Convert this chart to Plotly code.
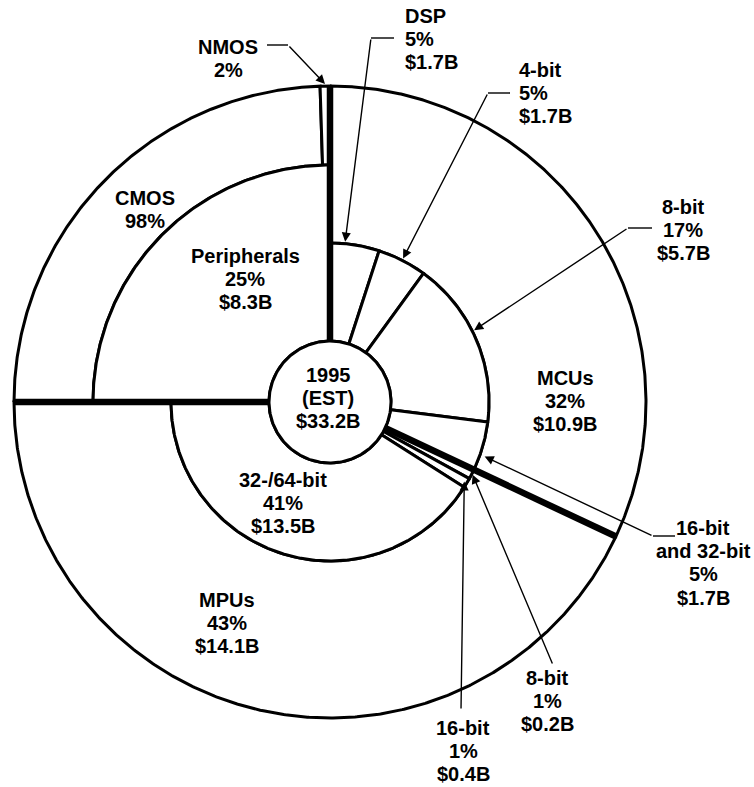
import numpy as np
import plotly.graph_objects as go

# ---------------- data ----------------
hub_lines = ["1995", "(EST)"]
total_value = 33.2

segment_names = ["MCUs", "MPUs", "Peripherals"]
segment_pct = [32, 43, 25]
segment_value = [10.9, 14.1, 8.3]

mcu_names = ["DSP", "4-bit", "8-bit", "16-bit\nand 32-bit"]
mcu_pct = [5, 5, 17, 5]
mcu_value = [1.7, 1.7, 5.7, 1.7]

mpu_names = ["8-bit", "16-bit", "32-/64-bit"]
mpu_pct = [1, 1, 41]
mpu_value = [0.2, 0.4, 13.5]

tech_names = ["CMOS", "NMOS"]          # share of peripherals
tech_pct = [98, 2]

# ---------------- geometry / style ----------------
W, H = 754, 787
CX, CY = 330, 402
R_HUB, R_INNER, R_PERIPH, R_OUTER = 61, 159, 237, 316
FONT = "Liberation Sans, Arial, Helvetica, sans-serif"
FS = 20
PITCH = 23.2
THIN = 3
THICK = 6.5


def pt(r, a):
    t = np.radians(a)
    return CX + r * np.sin(t), CY - r * np.cos(t)


def wedge(a0, a1, r0, r1):
    n = max(6, int(abs(a1 - a0) * 3) + 2)
    t = np.linspace(a0, a1, n)
    xo, yo = pt(r1, t)
    if r0 > 0:
        xi, yi = pt(r0, t[::-1])
    else:
        xi, yi = np.array([CX]), np.array([CY])
    x = np.concatenate([xo, xi, xo[:1]])
    y = np.concatenate([yo, yi, yo[:1]])
    return x, y


fig = go.Figure()


def add_wedge(a0, a1, r0, r1, width=THIN):
    x, y = wedge(a0, a1, r0, r1)
    fig.add_trace(go.Scatter(x=x, y=y, mode="lines", fill="toself",
                             fillcolor="white",
                             line=dict(color="black", width=width),
                             hoverinfo="skip"))


# major segment angles (clockwise from 12 o'clock)
seg_edges = np.concatenate([[0], np.cumsum(segment_pct)]) * 3.6
seg_ang = {n: (seg_edges[i], seg_edges[i + 1]) for i, n in enumerate(segment_names)}

slice_ang = {}
# outer ring: MCUs and MPUs
for n in ["MCUs", "MPUs"]:
    a0, a1 = seg_ang[n]
    add_wedge(a0, a1, R_INNER, R_OUTER)

# peripherals outer ring split by technology
p0, p1 = seg_ang["Peripherals"]
tedges = p0 + np.concatenate([[0], np.cumsum(tech_pct)]) / 100 * (p1 - p0)
for i, n in enumerate(tech_names):
    add_wedge(tedges[i], tedges[i + 1], R_PERIPH, R_OUTER)
    slice_ang[n] = (tedges[i], tedges[i + 1])

# inner ring: MCU breakdown
m0 = seg_ang["MCUs"][0]
medges = m0 + np.concatenate([[0], np.cumsum(mcu_pct)]) * 3.6
for i, n in enumerate(mcu_names):
    add_wedge(medges[i], medges[i + 1], R_HUB, R_INNER)
    slice_ang["mcu:" + n] = (medges[i], medges[i + 1])

# inner ring: MPU breakdown
u0 = seg_ang["MPUs"][0]
uedges = u0 + np.concatenate([[0], np.cumsum(mpu_pct)]) * 3.6
for i, n in enumerate(mpu_names):
    add_wedge(uedges[i], uedges[i + 1], R_HUB, R_INNER)
    slice_ang["mpu:" + n] = (uedges[i], uedges[i + 1])

# inner ring: peripherals
add_wedge(p0, p1, R_HUB, R_PERIPH)

# hub
hx, hy = wedge(0, 360, 0, R_HUB)
hx, hy = pt(R_HUB, np.linspace(0, 360, 361))
fig.add_trace(go.Scatter(x=hx, y=hy, mode="lines", fill="toself", fillcolor="white",
                         line=dict(color="black", width=THIN), hoverinfo="skip"))

# thick separators between major segments
for a in seg_edges[:-1]:
    x0, y0 = pt(R_HUB, a)
    x1, y1 = pt(R_OUTER, a)
    fig.add_trace(go.Scatter(x=[x0, x1], y=[y0, y1], mode="lines",
                             line=dict(color="black", width=THICK), hoverinfo="skip"))

annotations = []


def text_block(lines, x, y0, anchor="center"):
    for k, s in enumerate(lines):
        annotations.append(dict(x=x, y=y0 + k * PITCH, xref="x", yref="y",
                                text="<b>%s</b>" % s, showarrow=False,
                                xanchor=anchor, yanchor="middle",
                                font=dict(family=FONT, size=FS, color="black")))


def money(v):
    return "$%.1fB" % v


# in-ring labels
text_block(["MCUs", "%d%%" % segment_pct[0], money(segment_value[0])], 565, 378)
text_block(["MPUs", "%d%%" % segment_pct[1], money(segment_value[1])], 227, 600)
text_block(["Peripherals", "%d%%" % segment_pct[2], money(segment_value[2])], 245, 256)
text_block([mpu_names[2], "%d%%" % mpu_pct[2], money(mpu_value[2])], 283, 480)
text_block([tech_names[0], "%d%%" % tech_pct[0]], 145, 198)
text_block(hub_lines + [money(total_value)], 328, 375)

# callouts: (key, lines, text x, first line y, anchor, leader points, tip radius, tip fraction)
callouts = [
    ("NMOS", [tech_names[1], "%d%%" % tech_pct[1]], 228, 47, "center",
     [(267, 45), (288, 45)], R_OUTER + 2, 0.5),
    ("mcu:DSP", [mcu_names[0], "%d%%" % mcu_pct[0], money(mcu_value[0])], 403, 16, "left",
     [(394, 38), (371, 38)], R_INNER + 2, 0.3),
    ("mcu:4-bit", [mcu_names[1], "%d%%" % mcu_pct[1], money(mcu_value[1])], 517, 70, "left",
     [(510, 93), (488, 93)], R_INNER + 2, 0.5),
    ("mcu:8-bit", [mcu_names[2], "%d%%" % mcu_pct[2], money(mcu_value[2])], 683, 207, "center",
     [(652, 228), (628, 228)], R_INNER + 2, 0.45),
    ("mcu:16-bit\nand 32-bit", mcu_names[3].split("\n") + ["%d%%" % mcu_pct[3], money(mcu_value[3])],
     703, 528, "center", [(675, 536), (653, 536)], R_INNER + 5, 0.68),
    ("mpu:8-bit", [mpu_names[0], "%d%%" % mpu_pct[0], money(mpu_value[0])], 547, 678, "center",
     [(553, 665)], R_INNER + 1, 0.5),
    ("mpu:16-bit", [mpu_names[1], "%d%%" % mpu_pct[1], money(mpu_value[1])], 463, 728, "center",
     [(461, 710)], R_INNER - 3, 0.5),
]

for key, lines, tx, ty, anchor, leader, tr, frac in callouts:
    a0, a1 = slice_ang[key]
    tipx, tipy = pt(tr, a0 + frac * (a1 - a0))
    if len(leader) > 1:
        fig.add_trace(go.Scatter(x=[p[0] for p in leader], y=[p[1] for p in leader],
                                 mode="lines", line=dict(color="black", width=1.4),
                                 hoverinfo="skip"))
    bx, by = leader[-1]
    annotations.append(dict(x=tipx, y=tipy, ax=bx, ay=by, xref="x", yref="y",
                            axref="x", ayref="y", text="", showarrow=True,
                            arrowhead=2, arrowsize=1.3, arrowwidth=1.4,
                            arrowcolor="black", standoff=0, startstandoff=0))
    text_block(lines, tx, ty, anchor)

fig.update_layout(
    width=W, height=H, margin=dict(l=0, r=0, t=0, b=0),
    paper_bgcolor="white", plot_bgcolor="white", showlegend=False,
    xaxis=dict(range=[0, W], visible=False, fixedrange=True),
    yaxis=dict(range=[H, 0], visible=False, fixedrange=True),
    annotations=annotations,
)

fig.write_html("out.html")
